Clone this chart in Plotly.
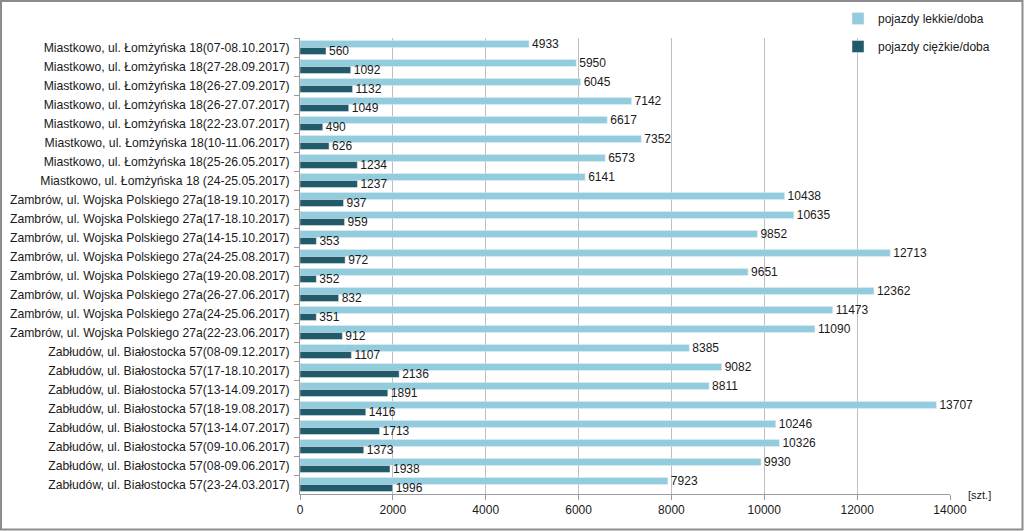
import plotly.graph_objects as go

categories = [
    "Miastkowo, ul. Łomżyńska 18(07-08.10.2017)",
    "Miastkowo, ul. Łomżyńska 18(27-28.09.2017)",
    "Miastkowo, ul. Łomżyńska 18(26-27.09.2017)",
    "Miastkowo, ul. Łomżyńska 18(26-27.07.2017)",
    "Miastkowo, ul. Łomżyńska 18(22-23.07.2017)",
    "Miastkowo, ul. Łomżyńska 18(10-11.06.2017)",
    "Miastkowo, ul. Łomżyńska 18(25-26.05.2017)",
    "Miastkowo, ul. Łomżyńska 18 (24-25.05.2017)",
    "Zambrów, ul. Wojska Polskiego 27a(18-19.10.2017)",
    "Zambrów, ul. Wojska Polskiego 27a(17-18.10.2017)",
    "Zambrów, ul. Wojska Polskiego 27a(14-15.10.2017)",
    "Zambrów, ul. Wojska Polskiego 27a(24-25.08.2017)",
    "Zambrów, ul. Wojska Polskiego 27a(19-20.08.2017)",
    "Zambrów, ul. Wojska Polskiego 27a(26-27.06.2017)",
    "Zambrów, ul. Wojska Polskiego 27a(24-25.06.2017)",
    "Zambrów, ul. Wojska Polskiego 27a(22-23.06.2017)",
    "Zabłudów, ul. Białostocka 57(08-09.12.2017)",
    "Zabłudów, ul. Białostocka 57(17-18.10.2017)",
    "Zabłudów, ul. Białostocka 57(13-14.09.2017)",
    "Zabłudów, ul. Białostocka 57(18-19.08.2017)",
    "Zabłudów, ul. Białostocka 57(13-14.07.2017)",
    "Zabłudów, ul. Białostocka 57(09-10.06.2017)",
    "Zabłudów, ul. Białostocka 57(08-09.06.2017)",
    "Zabłudów, ul. Białostocka 57(23-24.03.2017)",
]
light = [4933, 5950, 6045, 7142, 6617, 7352, 6573, 6141,
         10438, 10635, 9852, 12713, 9651, 12362, 11473, 11090,
         8385, 9082, 8811, 13707, 10246, 10326, 9930, 7923]
heavy = [560, 1092, 1132, 1049, 490, 626, 1234, 1237,
         937, 959, 353, 972, 352, 832, 351, 912,
         1107, 2136, 1891, 1416, 1713, 1373, 1938, 1996]
x_ticks = [0, 2000, 4000, 6000, 8000, 10000, 12000, 14000]

FONT = "Liberation Sans"
W, H = 1024, 531
L, R, T, B = 300, 74, 38, 37
pw, ph = W - L - R, H - T - B

fig = go.Figure()
fig.add_trace(go.Bar(
    y=categories, x=light, orientation="h", name="pojazdy lekkie/doba",
    legendgroup="a",
    marker=dict(color="#93CDDD"), text=[str(v) for v in light],
    textposition="outside", cliponaxis=False, constraintext="none",
    textfont=dict(family=FONT, size=12, color="#1A1A1A"),
))
fig.add_trace(go.Bar(
    y=categories, x=heavy, orientation="h", name="pojazdy ciężkie/doba",
    legendgroup="b",
    marker=dict(color="#215A69"), text=[str(v) for v in heavy],
    textposition="outside", cliponaxis=False, constraintext="none",
    textfont=dict(family=FONT, size=12, color="#1A1A1A"),
))

fig.update_layout(
    width=W, height=H,
    margin=dict(l=L, r=R, t=T, b=B, autoexpand=False),
    paper_bgcolor="white", plot_bgcolor="white",
    barmode="group", bargap=0.26, bargroupgap=0.0,
    font=dict(family=FONT, size=12, color="#1A1A1A"),
    legend=dict(x=(838 - L) / pw, y=1 + (T - 4) / ph, xanchor="left", yanchor="top",
                font=dict(family=FONT, size=12, color="#1A1A1A"),
                tracegroupgap=9, itemwidth=30, bgcolor="rgba(0,0,0,0)"),
    showlegend=True,
)
fig.update_xaxes(
    range=[0, 14000], tickvals=x_ticks, ticktext=[str(v) for v in x_ticks],
    showgrid=True, gridcolor="#BFBFBF", gridwidth=1,
    showline=True, linecolor="#9A9A9A", linewidth=1,
    ticks="outside", ticklen=5, tickcolor="#9A9A9A",
    tickfont=dict(family=FONT, size=12, color="#1A1A1A"),
    zeroline=False, fixedrange=True,
)
fig.update_yaxes(
    type="category", autorange="reversed",
    showline=True, linecolor="#9A9A9A", linewidth=1,
    ticks="outside", ticklen=5, tickcolor="#9A9A9A", tickson="boundaries",
    ticklabelstandoff=7,
    tickfont=dict(family=FONT, size=12.2, color="#1A1A1A"),
    showgrid=False, fixedrange=True,
)
fig.add_annotation(
    text="[szt.]", xref="paper", yref="paper",
    x=1 + (966 - 950) / pw, y=-(495 - 494) / ph, xanchor="left", yanchor="middle",
    showarrow=False, font=dict(family=FONT, size=11, color="#1A1A1A"),
)
fig.add_shape(
    type="rect", xref="paper", yref="paper",
    x0=-(L - 1) / pw, x1=1 + (R - 1.5) / pw, y0=-(B - 1.5) / ph, y1=1 + (T - 1) / ph,
    line=dict(color="#8C8C8C", width=2), fillcolor="rgba(0,0,0,0)", layer="above",
)

fig.write_html("out.html")
